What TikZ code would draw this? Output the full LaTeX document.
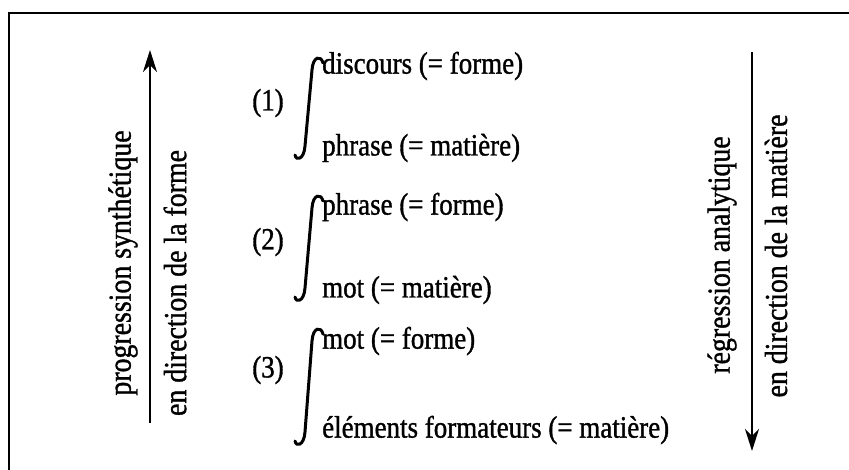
\documentclass[tikz,border=0pt]{standalone}
\usepackage{fontspec}
\setmainfont{Liberation Serif}[FakeStretch=0.87, FakeBold=1.1]
\usepackage{tikz}
\usetikzlibrary{arrows.meta, positioning}

\tikzset{
  lbl/.style={font=\fontsize{31}{35}\selectfont, inner sep=0pt},
  num/.style={lbl, anchor=center},
  side/.style={lbl, font=\fontsize{32}{36}\selectfont, rotate=90},
  integ/.style={line width=3pt, line cap=round},
  axis/.style={line width=2pt, -{Stealth[length=22pt, width=14pt, inset=7pt]}},
}

\begin{document}
\begin{tikzpicture}[x=1pt, y=-1pt]
  \useasboundingbox (0,0) rectangle (849,470);

  % ---- frame ----
  \draw[line width=2pt] (849,13) -- (9,13) -- (9,470);

  % ---- left axis ----
  \coordinate (lbot) at (150,423);
  \coordinate (ltop) at (150,50);
  \draw[axis] (lbot) -- (ltop);
  \node[side] (prog) at (123,263) {progression synthétique};
  \node[side] (dirF) at (175,283) {en direction de la forme};

  % ---- right axis ----
  \coordinate (rtop) at (752,52);
  \coordinate (rbot) at (752,451);
  \draw[axis] (rtop) -- (rbot);
  \node[side] (regr) at (722,255) {régression analytique};
  \node[side] (dirM) at (776,256) {en direction de la matière};

  % ---- (1) ----
  \node[num] (n1) at (268,103) {(1)};
  \draw[integ] (323,63) .. controls (321,55) and (313,56) .. (312,70) -- (305,146) .. controls (304,160) and (296,161) .. (295,155);
  \node[lbl, anchor=west] (f1) at (322,66) {discours (= forme)};
  \node[lbl, anchor=west] (m1) at (322,148) {phrase (= matière)};

  % ---- (2) ----
  \node[num] (n2) at (268,242) {(2)};
  \draw[integ] (323,201) .. controls (321,193) and (313,194) .. (312,208) -- (305,288) .. controls (304,302) and (296,303) .. (295,297);
  \node[lbl, anchor=west] (f2) at (322,207) {phrase (= forme)};
  \node[lbl, anchor=west] (m2) at (322,290) {mot (= matière)};

  % ---- (3) ----
  \node[num] (n3) at (268,370) {(3)};
  \draw[integ] (323,334) .. controls (321,326) and (313,327) .. (312,341) -- (305,432) .. controls (304,446) and (296,447) .. (295,441);
  \node[lbl, anchor=west] (f3) at (322,341) {mot (= forme)};
  \node[lbl, anchor=west] (m3) at (322,430) {éléments formateurs (= matière)};
\end{tikzpicture}
\end{document}
